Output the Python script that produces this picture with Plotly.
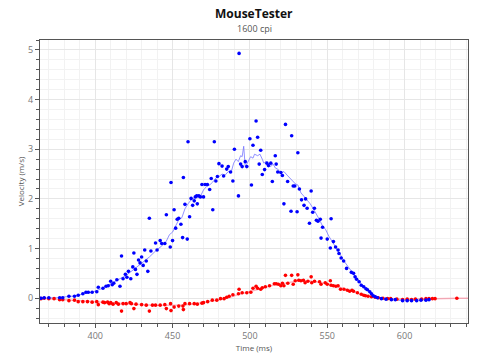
import plotly.graph_objects as go

# ---- data ----
x_time = [365,367,370,377,379,383,386.6,389,392,394,395.5,398,401,402,405,407,408.4,410,411,412,414,416,417,418,419.5,420.5,421.5,423,424.3,425,426,427,428,429,430,431,432,433,434,435,436,439,440,442,443,445,446,448.5,449,450,451,452,453,454,455.4,456.5,457,458,459.5,460,461,462,463,464,464.7,465.6,466,467,468,469,470,471,472.5,474,475,476,477,478,479,480,482,483,485,486,487.5,489,490,492.6,493,494,495,497,498,500,501,502,504,505,506,507,508,509.5,511,512,513.5,514.5,516.4,517,518,520,521,522,523,524.4,526.6,527,528,529,530.5,531,532,533.4,535,536,537,538.5,539.6,540.6,541.7,543,544,545.5,546,547,550,552,552.5,554,555.4,557,557.6,559,560.6,562.5,565.6,567,568,569,570.6,572,573.6,575,576,577.5,578.6,579.7,581,582.5,585,588,591.5,594,598.7,601.7,604.5,607.8,610.6,613.8,615.8]
x_vel = [0.00,0.01,0.01,0.01,0.01,0.04,0.04,0.06,0.09,0.12,0.12,0.12,0.13,0.22,0.20,0.24,0.25,0.34,0.27,0.30,0.37,0.24,0.85,0.39,0.48,0.42,0.54,0.39,0.63,0.91,0.58,0.48,0.77,0.71,0.83,0.66,0.97,0.75,0.54,1.61,0.95,1.11,0.97,1.16,1.10,1.10,1.68,1.03,2.33,1.16,1.78,1.41,1.59,1.61,1.49,1.22,2.43,1.89,1.19,3.15,1.64,2.01,1.87,1.96,2.04,2.06,1.90,2.06,2.04,2.29,2.04,2.29,2.29,2.19,2.41,1.78,3.15,2.36,2.45,2.71,2.66,2.46,2.60,2.65,2.54,2.36,3.00,2.06,4.93,2.70,2.65,2.75,2.65,3.21,2.28,3.08,3.57,3.24,2.70,2.98,2.49,2.59,2.72,2.67,2.72,2.35,2.87,2.70,2.54,2.53,2.47,1.90,3.50,2.35,1.75,3.27,2.26,2.26,1.74,2.93,2.20,1.98,1.87,2.00,1.81,1.51,2.16,1.73,1.81,1.57,1.55,1.59,1.21,1.43,1.19,1.01,1.60,1.14,1.03,0.97,0.90,0.81,0.75,0.60,0.52,0.50,0.43,0.38,0.33,0.26,0.23,0.19,0.17,0.13,0.09,0.05,0.03,0.01,-0.01,-0.02,-0.03,-0.03,-0.05,-0.05,-0.05,-0.05,-0.04,-0.04,-0.03]

y_time = [365,367,370,373.4,377,379,383,386.6,389,392,395,398,401,402,405,406,408,409,410,411.5,413.6,415,417,418,420,422.5,423.4,425,426.4,430,433,435,437,439,442,445,446,448.7,449,451,454,456.7,457,458,461,464,466,469,470,472.7,475.7,478.6,481,483.3,485,486.6,489,492.6,493,495,498,500.6,502,504,505,507,508,510,512.7,515.8,517,518.4,520,521,522,523,524.5,527,528,529.3,531,531.6,533,534.6,535.7,537.5,539.6,540,541.8,545,546,548.7,550,552,552.5,554,555.6,557,558.6,560.8,563,564.5,566,567,569.5,572,573.6,574.7,576.4,578.6,581,583,586,589,591,595,598.7,601.7,604.5,607,611,613.8,615.8,618,619.7,633.8]
y_vel = [-0.01,0.00,-0.01,-0.01,-0.03,-0.03,-0.05,-0.04,-0.07,-0.07,-0.07,-0.08,-0.07,-0.13,-0.08,-0.09,-0.08,-0.11,-0.09,-0.12,-0.09,-0.12,-0.26,-0.11,-0.11,-0.09,-0.11,-0.21,-0.12,-0.13,-0.14,-0.26,-0.14,-0.14,-0.14,-0.13,-0.21,-0.11,-0.25,-0.18,-0.16,-0.16,-0.23,-0.11,-0.11,-0.11,-0.12,-0.10,-0.09,-0.07,-0.04,-0.04,-0.01,-0.01,0.02,0.04,0.07,0.09,0.18,0.11,0.11,0.12,0.20,0.24,0.20,0.18,0.21,0.23,0.25,0.29,0.29,0.28,0.25,0.30,0.25,0.46,0.30,0.46,0.28,0.35,0.47,0.36,0.35,0.36,0.31,0.34,0.43,0.31,0.34,0.33,0.28,0.31,0.28,0.35,0.26,0.25,0.24,0.25,0.18,0.18,0.16,0.14,0.16,0.14,0.11,0.08,0.06,0.05,0.04,0.03,0.02,0.01,0.00,-0.01,-0.01,-0.02,-0.03,-0.02,-0.03,-0.02,-0.02,-0.01,-0.01,-0.01,-0.01,0.00]

x_line_time = [365,375,385,392,398,404,410,415,420,425,430,435,440,443,446,448,450,452,454,456,458,460,462,464,466,468,470,472,474,476,478,480,482,484,486,488,489.5,491,492.5,494,495,496,497,498,499,500.5,502,503,505,506.5,508,509,510.5,512,513.5,515,516.5,518,520,522,524,526,528,529.5,531,533,535,537,539,541,543,545,547,549,551,553,555,557,559,561,563.5,566,568,570,572,574,577,580,583,586,590,595,600,605,610,616]
x_line_vel = [0.00,0.01,0.04,0.08,0.12,0.19,0.29,0.36,0.46,0.58,0.70,0.83,0.98,1.05,1.15,1.28,1.33,1.45,1.58,1.62,1.80,1.90,1.98,2.02,2.07,2.05,2.18,2.25,2.28,2.34,2.42,2.45,2.50,2.48,2.55,2.55,2.72,2.80,2.75,2.87,2.85,3.06,2.64,2.70,2.75,2.85,2.82,2.90,2.87,2.90,2.80,2.72,2.75,2.68,2.65,2.70,2.62,2.60,2.52,2.55,2.48,2.42,2.35,2.30,2.28,2.12,2.05,1.98,1.90,1.80,1.70,1.58,1.45,1.38,1.25,1.15,1.05,0.97,0.85,0.74,0.63,0.52,0.43,0.36,0.28,0.22,0.15,0.07,0.02,-0.01,-0.03,-0.04,-0.05,-0.05,-0.04,-0.03]

y_line_time = [365,380,395,410,425,440,455,465,475,485,492,500,508,515,522,530,538,545,552,558,565,572,580,588,598,610,620,634,641]
y_line_vel = [0.00,-0.03,-0.07,-0.10,-0.12,-0.14,-0.14,-0.11,-0.06,0.00,0.07,0.13,0.20,0.26,0.30,0.34,0.35,0.32,0.28,0.22,0.15,0.08,0.02,-0.01,-0.02,-0.02,-0.01,0.00,0.00]

title_text = "MouseTester"
subtitle_text = "1600 cpi"
x_title = "Time (ms)"
y_title = "Velocity (m/s)"

FONT = "Open Sans, Noto Sans, sans-serif"

fig = go.Figure()
fig.add_trace(go.Scatter(x=y_line_time, y=y_line_vel, mode="lines",
                         line=dict(color="rgba(255,90,120,0.45)", width=1.5),
                         hoverinfo="skip", showlegend=False))
fig.add_trace(go.Scatter(x=x_line_time, y=x_line_vel, mode="lines",
                         line=dict(color="rgba(110,110,255,0.75)", width=1),
                         hoverinfo="skip", showlegend=False))
fig.add_trace(go.Scatter(x=y_time, y=y_vel, mode="markers",
                         marker=dict(color="#ff0000", size=3.6, line=dict(width=0)),
                         showlegend=False))
fig.add_trace(go.Scatter(x=x_time, y=x_vel, mode="markers",
                         marker=dict(color="#0000ff", size=3.6, line=dict(width=0)),
                         showlegend=False))

axis_common = dict(
    showline=True, linecolor="#555555", linewidth=1, mirror=True,
    ticks="outside", ticklen=4, tickcolor="#555555",
    gridcolor="#e6e6e6", gridwidth=1, zeroline=False, automargin=False,
    tickfont=dict(family=FONT, size=9, color="#777777"),
)

fig.update_layout(
    width=480, height=360,
    margin=dict(l=40, r=12, t=40, b=37, autoexpand=False),
    paper_bgcolor="white", plot_bgcolor="white",
    font=dict(family=FONT),
    title=dict(text="<b>" + title_text + "</b>", x=0.5286, xanchor="center",
               y=1 - 14/360, yanchor="middle", yref="container", automargin=False,
               font=dict(family=FONT, size=12, color="#111111")),
    annotations=[dict(text=subtitle_text, x=0.5, xref="paper", xanchor="center",
                      y=1 + 11/283, yref="paper", yanchor="middle", showarrow=False,
                      font=dict(family=FONT, size=9, color="#555555"))],
    xaxis=dict(range=[364.3, 641], dtick=50, tick0=400,
               minor=dict(dtick=10, ticks="outside", ticklen=3, tickcolor="#555555",
                          showgrid=True, gridcolor="#f2f2f2"),
               title=dict(text=x_title, font=dict(family=FONT, size=8, color="#555555"),
                          standoff=3),
               **axis_common),
    yaxis=dict(range=[-0.5, 5.2], dtick=1, tick0=0,
               minor=dict(dtick=0.2, ticks="outside", ticklen=3, tickcolor="#555555",
                          showgrid=True, gridcolor="#f2f2f2"),
               title=dict(text=y_title, font=dict(family=FONT, size=8, color="#555555"),
                          standoff=2),
               **axis_common),
)

fig.write_html("out.html", config={"displayModeBar": False},
               post_script="document.body.style.margin='0';document.body.style.overflow='hidden';")
